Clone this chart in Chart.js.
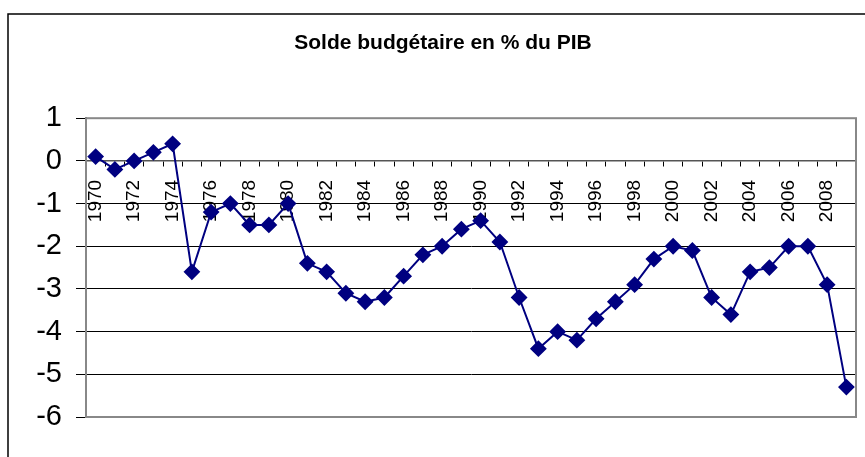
<!DOCTYPE html>
<html>
<head>
<meta charset="utf-8">
<script src="https://cdn.jsdelivr.net/npm/chart.js@4"></script>
<style>
  html, body { margin: 0; padding: 0; background: #fff; }
</style>
</head>
<body>
<canvas id="chart" width="865" height="457"></canvas>
<script>
// Données : solde budgétaire en % du PIB, 1970-2009
const years = [];
for (let y = 1970; y <= 2009; y++) years.push(String(y));

const solde = [
  0.1, -0.2, 0.0, 0.2, 0.4, -2.6, -1.2, -1.0, -1.5, -1.5,
  -1.0, -2.4, -2.6, -3.1, -3.3, -3.2, -2.7, -2.2, -2.0, -1.6,
  -1.4, -1.9, -3.2, -4.4, -4.0, -4.2, -3.7, -3.3, -2.9, -2.3,
  -2.0, -2.1, -3.2, -3.6, -2.6, -2.5, -2.0, -2.0, -2.9, -5.3
];

const yMin = -6, yMax = 1;

// cadre extérieur + bordure grise de la zone de tracé
const cadre = {
  id: 'cadre',
  beforeDatasetsDraw(chart) {
    const { ctx, chartArea: a } = chart;
    ctx.save();
    ctx.strokeStyle = '#888';
    ctx.lineWidth = 2;
    ctx.strokeRect(a.left, a.top, a.right - a.left, a.bottom - a.top);
    ctx.restore();
  },
  afterDraw(chart) {
    const ctx = chart.ctx;
    ctx.save();
    ctx.strokeStyle = '#000';
    ctx.lineWidth = 1.5;
    ctx.beginPath();
    ctx.moveTo(8, 457);
    ctx.lineTo(8, 14);
    ctx.lineTo(865, 14);
    ctx.stroke();
    ctx.restore();
  }
};

new Chart(document.getElementById('chart'), {
  type: 'line',
  data: {
    labels: years,
    datasets: [{
      data: solde,
      borderColor: '#000080',
      backgroundColor: '#000080',
      borderWidth: 2,
      pointStyle: 'rectRot',
      pointRadius: 7,
      pointHoverRadius: 7,
      tension: 0
    }]
  },
  options: {
    responsive: false,
    animation: false,
    layout: { padding: { top: 0, right: 9, bottom: 40, left: 30 } },
    plugins: {
      legend: { display: false },
      tooltip: { enabled: false },
      title: {
        display: true,
        text: 'Solde budgétaire en % du PIB',
        color: '#000',
        font: { family: 'Arial, "Liberation Sans"', size: 21, weight: 'bold' },
        padding: { top: 31, bottom: 62 }
      }
    },
    scales: {
      x: {
        position: { y: 0 },
        offset: true,
        // l'axe est placé sur y=0 : pas de marge latérale pour les étiquettes
        afterFit: (s) => { s.paddingLeft = 0; s.paddingRight = 0; },
        grid: {
          display: true,
          drawOnChartArea: false,
          offset: true,
          tickLength: 5,
          color: '#000'
        },
        border: { display: true, color: '#555', width: 1.5 },
        ticks: {
          autoSkip: false,
          minRotation: 90,
          maxRotation: 90,
          padding: 14,
          color: '#000',
          font: { family: 'Arial, "Liberation Sans"', size: 19 },
          callback: (v, i) => (i % 2 === 0 ? years[i] : '')
        }
      },
      y: {
        min: yMin,
        max: yMax,
        afterFit: (s) => { s.width = 56; },
        grid: {
          color: (c) => (c.tick.value === yMax || c.tick.value === yMin ? 'rgba(0,0,0,0)' : '#000'),
          tickColor: '#000',
          tickLength: 10,
          lineWidth: 1
        },
        border: { display: true, color: '#666', width: 2 },
        ticks: {
          stepSize: 1,
          padding: 14,
          color: '#000',
          font: { family: 'Arial, "Liberation Sans"', size: 29 }
        }
      }
    }
  },
  plugins: [cadre]
});
</script>
</body>
</html>
